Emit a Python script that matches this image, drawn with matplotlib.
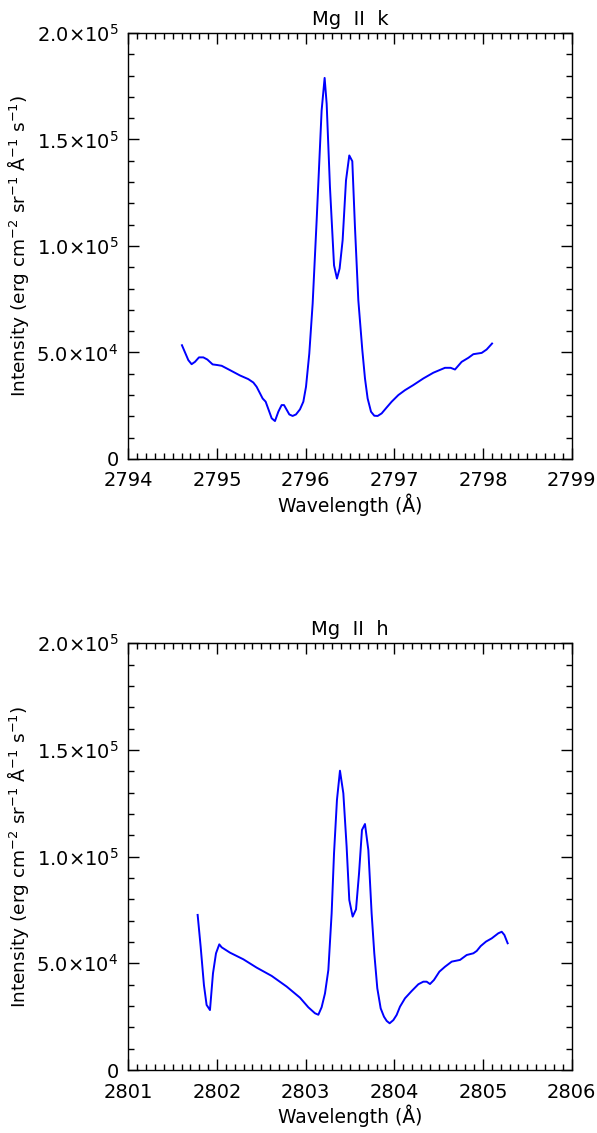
import numpy as np
import matplotlib
matplotlib.use("Agg")
import matplotlib.pyplot as plt
import matplotlib.ticker as ticker

# Mg II k profile (wavelength in Angstrom, intensity in erg cm-2 sr-1 A-1 s-1)
k_wave = [2794.605, 2794.677, 2794.714, 2794.752, 2794.797, 2794.846, 2794.891, 2794.951,
          2795.004, 2795.053, 2795.147, 2795.260, 2795.353, 2795.410, 2795.447, 2795.515,
          2795.549, 2795.617, 2795.654, 2795.692, 2795.729, 2795.756, 2795.816, 2795.853,
          2795.891, 2795.936, 2795.974, 2796.004, 2796.041, 2796.079, 2796.124, 2796.180,
          2796.214, 2796.237, 2796.274, 2796.320, 2796.353, 2796.383, 2796.417, 2796.455,
          2796.492, 2796.526, 2796.556, 2796.594, 2796.639, 2796.669, 2796.699, 2796.737,
          2796.774, 2796.812, 2796.857, 2796.914, 2796.970, 2797.045, 2797.120, 2797.214,
          2797.327, 2797.440, 2797.571, 2797.635, 2797.684, 2797.759, 2797.835, 2797.891,
          2797.985, 2798.041, 2798.102]
k_int = [53.4, 46.4, 44.5, 45.6, 47.7, 47.7, 46.7, 44.4,
         44.1, 43.75, 41.7, 39.2, 37.5, 35.9, 33.9, 28.4,
         26.9, 19.1, 17.8, 22.2, 25.3, 25.3, 20.9, 20.2,
         20.9, 23.3, 26.9, 33.9, 49.5, 73.0, 112.0, 163.6,
         178.9, 166.7, 127.7, 90.9, 84.7, 89.4, 102.7, 130.8,
         142.5, 139.8, 108.9, 74.5, 51.1, 37.8, 28.4, 22.2,
         20.3, 20.2, 21.4, 24.2, 26.9, 30.0, 32.3, 34.7,
         37.8, 40.5, 42.8, 42.8, 42.0, 45.6, 47.5, 49.2,
         49.8, 51.4, 54.2]

# Mg II h profile
h_wave = [2801.782, 2801.816, 2801.853, 2801.883, 2801.921, 2801.955, 2801.989, 2802.026,
          2802.053, 2802.147, 2802.297, 2802.447, 2802.617, 2802.786, 2802.936, 2803.030,
          2803.105, 2803.143, 2803.180, 2803.218, 2803.256, 2803.293, 2803.320, 2803.353,
          2803.387, 2803.425, 2803.462, 2803.492, 2803.530, 2803.568, 2803.602, 2803.635,
          2803.669, 2803.707, 2803.744, 2803.774, 2803.808, 2803.846, 2803.883, 2803.914,
          2803.947, 2803.989, 2804.026, 2804.064, 2804.120, 2804.195, 2804.271, 2804.327,
          2804.365, 2804.402, 2804.447, 2804.508, 2804.571, 2804.647, 2804.741, 2804.816,
          2804.891, 2804.929, 2804.974, 2805.034, 2805.098, 2805.173, 2805.211, 2805.241,
          2805.278]
h_int = [72.7, 57.8, 39.8, 30.5, 28.1, 45.3, 54.7, 58.9,
         57.5, 55.0, 51.9, 48.0, 44.1, 39.1, 33.9, 29.4,
         26.6, 25.9, 29.4, 35.9, 46.9, 73.4, 101.6, 126.6,
         140.3, 129.7, 104.7, 79.7, 71.9, 75.3, 92.2, 112.5,
         115.3, 103.1, 73.4, 54.7, 38.3, 28.9, 25.0, 23.0,
         21.9, 23.4, 25.8, 29.7, 33.6, 37.0, 40.2, 41.4,
         41.4, 40.3, 42.2, 46.1, 48.4, 50.8, 51.6, 53.9,
         54.7, 55.8, 58.1, 60.2, 61.7, 64.1, 64.8, 63.3,
         59.4]

y_ticks = [0, 5e4, 1e5, 1.5e5, 2e5]
y_ticklabels = ["0",
                r"$\mathregular{5.0{\times}10^{4}}$",
                r"$\mathregular{1.0{\times}10^{5}}$",
                r"$\mathregular{1.5{\times}10^{5}}$",
                r"$\mathregular{2.0{\times}10^{5}}$"]

ylab = r"Intensity (erg cm$^{\mathregular{-2}}$ sr$^{\mathregular{-1}}$ Å$^{\mathregular{-1}}$ s$^{\mathregular{-1}}$)"


def plot_line(ax, wave, inten, x0, title):
    ax.plot(wave, np.asarray(inten) * 1000, color=(0, 0, 1), lw=1.4)
    ax.set_xlim(x0, x0 + 5)
    ax.set_ylim(0, 2e5)
    ax.set_title(title, fontsize=14, pad=6)
    ax.set_xlabel("Wavelength (Å)", fontsize=13.5, labelpad=2)
    ax.set_ylabel(ylab, fontsize=13.3, labelpad=4)
    ax.xaxis.set_major_locator(ticker.MultipleLocator(1))
    ax.xaxis.set_minor_locator(ticker.MultipleLocator(0.1))
    ax.xaxis.set_major_formatter(ticker.FormatStrFormatter("%d"))
    ax.yaxis.set_major_locator(ticker.FixedLocator(y_ticks))
    ax.yaxis.set_minor_locator(ticker.MultipleLocator(1e4))
    ax.set_yticklabels(y_ticklabels)
    ax.tick_params(which="both", direction="in", top=True, right=True, labelsize=14)
    ax.tick_params(which="major", length=8, width=1)
    ax.tick_params(axis="x", which="major", pad=9)
    ax.tick_params(axis="y", which="major", pad=7)
    ax.tick_params(which="minor", length=4, width=1)
    for s in ax.spines.values():
        s.set_linewidth(1)


fig = plt.figure(figsize=(5.97, 11.33), dpi=100)
ax1 = fig.add_axes([0.2149, 0.5949, 0.7427, 0.376])
ax2 = fig.add_axes([0.2149, 0.0556, 0.7427, 0.3766])

plot_line(ax1, k_wave, k_int, 2794, "Mg  II  k")
plot_line(ax2, h_wave, h_int, 2801, "Mg  II  h")

fig.savefig("out.png", dpi=100)
